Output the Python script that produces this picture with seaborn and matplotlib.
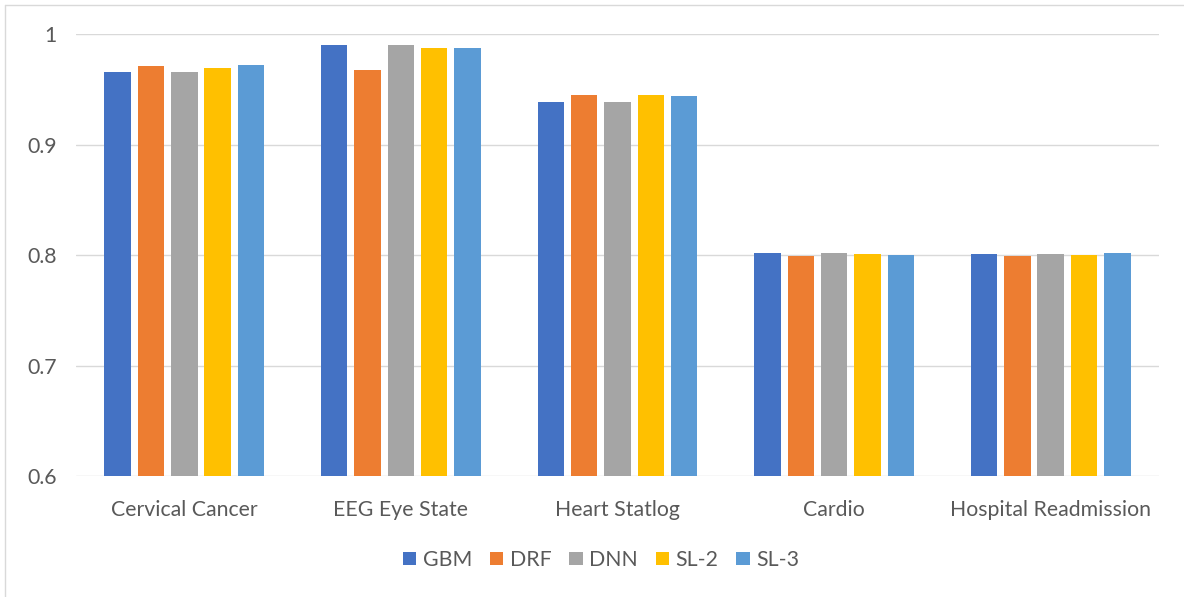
import matplotlib
matplotlib.use("Agg")
import matplotlib.pyplot as plt
from matplotlib.lines import Line2D
import seaborn as sns
import pandas as pd

datasets = ["Cervical Cancer", "EEG Eye State", "Heart Statlog", "Cardio", "Hospital Readmission"]
models = ["GBM", "DRF", "DNN", "SL-2", "SL-3"]
gbm = [0.966, 0.990, 0.939, 0.802, 0.801]
drf = [0.971, 0.968, 0.945, 0.799, 0.799]
dnn = [0.966, 0.990, 0.939, 0.802, 0.801]
sl2 = [0.9695, 0.9875, 0.945, 0.801, 0.800]
sl3 = [0.972, 0.988, 0.944, 0.800, 0.802]
yticks = [0.6, 0.7, 0.8, 0.9, 1.0]
ytick_labels = ["0.6", "0.7", "0.8", "0.9", "1"]
colors = ["#4472C4", "#ED7D31", "#A5A5A5", "#FFC000", "#5B9BD5"]

rows = []
for model, vals in zip(models, [gbm, drf, dnn, sl2, sl3]):
    for ds, v in zip(datasets, vals):
        rows.append({"dataset": ds, "model": model, "score": v})
df = pd.DataFrame(rows)

sns.set_theme(style="white")
plt.rcParams["font.family"] = ["Lato", "DejaVu Sans"]
text_color = "#595959"
fs = 15.3

W, H = 1184, 597
fig = plt.figure(figsize=(W / 100, H / 100), dpi=100)
ax = fig.add_axes([76 / W, 1 - 476 / H, (1159 - 76) / W, (476 - 34.3) / H])

sns.barplot(data=df, x="dataset", y="score", hue="model", order=datasets,
            hue_order=models, palette=colors, width=0.769, gap=0.207,
            saturation=1, edgecolor="none", linewidth=0, ax=ax, legend=True,
            zorder=3)

ax.set_ylim(0.6, 1.0)
ax.set_xlim(-0.5, len(datasets) - 0.5)
ax.set_yticks(yticks)
ax.set_yticklabels(ytick_labels)
ax.yaxis.grid(True, color="#D9D9D9", linewidth=1.0, zorder=0)
ax.set_axisbelow(True)
for s in ax.spines.values():
    s.set_visible(False)
ax.set_xlabel("")
ax.set_ylabel("")
ax.tick_params(axis="y", length=0, pad=14, labelsize=fs, labelcolor=text_color)
ax.tick_params(axis="x", length=0, pad=17, labelsize=fs, labelcolor=text_color)

handles, labels = ax.get_legend_handles_labels()
ax.get_legend().remove()
fig.legend(handles, labels, loc="center", bbox_to_anchor=(601 / W, 1 - 560 / H),
           ncol=5, frameon=False, fontsize=fs, labelcolor=text_color,
           handlelength=0.62, handleheight=0.62, handletextpad=0.3,
           columnspacing=0.85)

# chart frame
fig.add_artist(Line2D([5 / W, 1], [1 - 5 / H, 1 - 5 / H], transform=fig.transFigure,
                      color="#D9D9D9", linewidth=1.0))
fig.add_artist(Line2D([5 / W, 5 / W], [0, 1 - 5 / H], transform=fig.transFigure,
                      color="#D9D9D9", linewidth=1.0))

fig.savefig("out.png", dpi=100, facecolor="white")
